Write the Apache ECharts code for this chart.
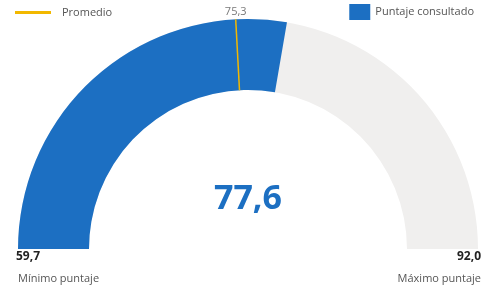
<!DOCTYPE html>
<html>
<head>
<meta charset="utf-8">
<script src="https://cdn.jsdelivr.net/npm/echarts@6/dist/echarts.min.js"></script>
<style>
html,body{margin:0;padding:0;background:#fff;}
#chartContainer{width:482px;height:288px;}
</style>
</head>
<body>
<div id="chartContainer"></div>
<script>
var minScore = 59.7;
var maxScore = 92.0;
var consultedScore = [77.6];
var averageScore = [75.3];
var legendNames = ['Promedio', 'Puntaje consultado'];
var endLabels = ['Mínimo puntaje', 'Máximo puntaje'];

function fmt(v){
	return v.toFixed(1).replace('.', ',');
}

function initGaugeChart(tagName){
	var dom = document.getElementById(tagName);
	var myChart = echarts.init(dom);
	var font = "'Open Sans', 'Noto Sans', sans-serif";
	var blue = '#1c6fc2';
	var orange = '#f2b800';
	var center = [248, 249];
	var radius = 230;
	var band = 71;
	var valueStyle = {color: '#222', fontSize: 12, fontWeight: 'bold', fontFamily: font};
	var nameStyle = {color: '#555', fontSize: 11, fontWeight: 'normal', fontFamily: font};
	option = {
		animation: false,
		textStyle: {fontFamily: font},
		legend: [
			{
				left: 15, top: 7, padding: 0,
				itemWidth: 36, itemHeight: 3,
				selectedMode: false,
				textStyle: {color: '#555', fontSize: 11, fontFamily: font, padding: [0, 0, 0, 6]},
				data: [{name: legendNames[0], icon: 'rect', itemStyle: {color: orange}}]
			},
			{
				right: 8, top: 4, padding: 0,
				itemWidth: 21, itemHeight: 16,
				selectedMode: false,
				textStyle: {color: '#555', fontSize: 11, fontFamily: font},
				data: [{name: legendNames[1], icon: 'rect', itemStyle: {color: blue}}]
			}
		],
		title: [
			{left: 11, top: 246, text: fmt(minScore), textStyle: valueStyle},
			{left: 13, top: 268, text: endLabels[0], textStyle: nameStyle},
			{right: -4, top: 246, text: fmt(maxScore), textStyle: valueStyle},
			{right: -4, top: 268, text: endLabels[1], textStyle: nameStyle}
		],
		polar: {center: center, radius: [0, radius]},
		angleAxis: {type: 'value', min: minScore, max: maxScore, startAngle: 180, endAngle: 0, show: false},
		radiusAxis: {type: 'value', min: 0, max: 1, show: false},
		series: [
			{
				name: legendNames[1],
				type: 'gauge',
				center: center,
				radius: radius,
				startAngle: 180,
				endAngle: 0,
				min: minScore,
				max: maxScore,
				itemStyle: {color: blue},
				progress: {show: true, width: band, itemStyle: {color: blue}},
				axisLine: {lineStyle: {width: band, color: [[1, '#f0efee']]}},
				pointer: {show: false},
				axisTick: {show: false},
				splitLine: {show: false},
				axisLabel: {show: false},
				anchor: {show: false},
				title: {show: false},
				detail: {
					offsetCenter: [0, -50],
					fontSize: 34,
					fontWeight: 'bold',
					fontFamily: font,
					color: blue,
					formatter: function(v){ return fmt(v); }
				},
				data: [{value: consultedScore[0], name: legendNames[1]}]
			},
			{
				name: legendNames[0],
				type: 'gauge',
				z: 5,
				center: center,
				radius: radius,
				startAngle: 180,
				endAngle: 0,
				min: minScore,
				max: maxScore,
				itemStyle: {color: orange},
				axisLine: {show: false},
				progress: {show: false},
				axisTick: {show: false},
				splitLine: {show: false},
				axisLabel: {show: false},
				anchor: {show: false},
				title: {show: false},
				detail: {show: false},
				pointer: {
					show: true,
					icon: 'rect',
					length: band,
					width: 1.5,
					offsetCenter: [0, -(radius - band)],
					itemStyle: {color: orange}
				},
				data: [{value: averageScore[0], name: legendNames[0]}]
			},
			{
				type: 'scatter',
				coordinateSystem: 'polar',
				symbolSize: 0,
				silent: true,
				label: {
					show: true,
					position: 'top',
					distance: 2,
					color: '#555',
					fontSize: 11,
					fontFamily: font,
					formatter: function(p){ return fmt(p.value[1]); }
				},
				data: [[1, averageScore[0]]]
			}
		]
	};
	myChart.setOption(option, true);
}

initGaugeChart('chartContainer');
</script>
</body>
</html>
